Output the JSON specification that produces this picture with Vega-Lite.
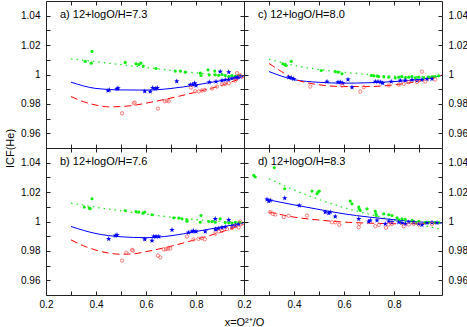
{
"$schema":"https://vega.github.io/schema/vega-lite/v6.json",
"padding":{"left":3,"top":0,"right":0,"bottom":0},
"background":"white",
"datasets":{
"fit":[
{"p":"a","s":"g","x":0.3,"y":1.0107},{"p":"a","s":"g","x":0.4,"y":1.0087},{"p":"a","s":"g","x":0.5,"y":1.0067},{"p":"a","s":"g","x":0.6,"y":1.0048},{"p":"a","s":"g","x":0.7,"y":1.0028},{"p":"a","s":"g","x":0.8,"y":1.0011},{"p":"a","s":"g","x":0.9,"y":0.9996},{"p":"a","s":"g","x":0.99,"y":0.9987},
{"p":"a","s":"b","x":0.3,"y":0.9948},{"p":"a","s":"b","x":0.4,"y":0.9905},{"p":"a","s":"b","x":0.5,"y":0.9895},{"p":"a","s":"b","x":0.6,"y":0.9894},{"p":"a","s":"b","x":0.7,"y":0.9905},{"p":"a","s":"b","x":0.8,"y":0.9929},{"p":"a","s":"b","x":0.9,"y":0.9958},{"p":"a","s":"b","x":0.99,"y":0.9988},
{"p":"a","s":"r","x":0.3,"y":0.985},{"p":"a","s":"r","x":0.35,"y":0.9815},{"p":"a","s":"r","x":0.4,"y":0.9792},{"p":"a","s":"r","x":0.45,"y":0.978},{"p":"a","s":"r","x":0.5,"y":0.9782},{"p":"a","s":"r","x":0.55,"y":0.979},{"p":"a","s":"r","x":0.6,"y":0.9805},{"p":"a","s":"r","x":0.7,"y":0.984},{"p":"a","s":"r","x":0.8,"y":0.988},{"p":"a","s":"r","x":0.9,"y":0.9925},{"p":"a","s":"r","x":0.99,"y":0.998},
{"p":"b","s":"g","x":0.3,"y":1.0125},{"p":"b","s":"g","x":0.4,"y":1.0097},{"p":"b","s":"g","x":0.5,"y":1.0072},{"p":"b","s":"g","x":0.6,"y":1.005},{"p":"b","s":"g","x":0.7,"y":1.003},{"p":"b","s":"g","x":0.8,"y":1.0013},{"p":"b","s":"g","x":0.9,"y":1.0},{"p":"b","s":"g","x":0.99,"y":0.9993},
{"p":"b","s":"b","x":0.3,"y":0.9966},{"p":"b","s":"b","x":0.4,"y":0.9918},{"p":"b","s":"b","x":0.5,"y":0.9896},{"p":"b","s":"b","x":0.6,"y":0.989},{"p":"b","s":"b","x":0.7,"y":0.9903},{"p":"b","s":"b","x":0.8,"y":0.9932},{"p":"b","s":"b","x":0.9,"y":0.9962},{"p":"b","s":"b","x":0.99,"y":0.999},
{"p":"b","s":"r","x":0.3,"y":0.9875},{"p":"b","s":"r","x":0.35,"y":0.9835},{"p":"b","s":"r","x":0.4,"y":0.9805},{"p":"b","s":"r","x":0.45,"y":0.9785},{"p":"b","s":"r","x":0.5,"y":0.9777},{"p":"b","s":"r","x":0.55,"y":0.978},{"p":"b","s":"r","x":0.6,"y":0.9795},{"p":"b","s":"r","x":0.7,"y":0.9832},{"p":"b","s":"r","x":0.8,"y":0.9878},{"p":"b","s":"r","x":0.9,"y":0.9928},{"p":"b","s":"r","x":0.99,"y":0.998},
{"p":"c","s":"g","x":0.3,"y":1.0105},{"p":"c","s":"g","x":0.4,"y":1.0062},{"p":"c","s":"g","x":0.5,"y":1.0034},{"p":"c","s":"g","x":0.6,"y":1.0015},{"p":"c","s":"g","x":0.7,"y":1.0},{"p":"c","s":"g","x":0.8,"y":0.9988},{"p":"c","s":"g","x":0.9,"y":0.9985},{"p":"c","s":"g","x":0.99,"y":0.9995},
{"p":"c","s":"b","x":0.3,"y":1.002},{"p":"c","s":"b","x":0.4,"y":0.9965},{"p":"c","s":"b","x":0.5,"y":0.9947},{"p":"c","s":"b","x":0.6,"y":0.9941},{"p":"c","s":"b","x":0.7,"y":0.9944},{"p":"c","s":"b","x":0.8,"y":0.9952},{"p":"c","s":"b","x":0.9,"y":0.9966},{"p":"c","s":"b","x":0.99,"y":0.9993},
{"p":"c","s":"r","x":0.3,"y":1.0075},{"p":"c","s":"r","x":0.35,"y":1.002},{"p":"c","s":"r","x":0.4,"y":0.997},{"p":"c","s":"r","x":0.45,"y":0.9945},{"p":"c","s":"r","x":0.5,"y":0.993},{"p":"c","s":"r","x":0.6,"y":0.9918},{"p":"c","s":"r","x":0.7,"y":0.9918},{"p":"c","s":"r","x":0.8,"y":0.993},{"p":"c","s":"r","x":0.9,"y":0.9955},{"p":"c","s":"r","x":0.99,"y":0.9995},
{"p":"d","s":"g","x":0.3,"y":1.029},{"p":"d","s":"g","x":0.4,"y":1.0215},{"p":"d","s":"g","x":0.5,"y":1.015},{"p":"d","s":"g","x":0.6,"y":1.0095},{"p":"d","s":"g","x":0.7,"y":1.005},{"p":"d","s":"g","x":0.8,"y":1.001},{"p":"d","s":"g","x":0.9,"y":0.998},{"p":"d","s":"g","x":0.99,"y":0.9945},
{"p":"d","s":"b","x":0.29,"y":1.015},{"p":"d","s":"b","x":0.4,"y":1.0113},{"p":"d","s":"b","x":0.5,"y":1.0082},{"p":"d","s":"b","x":0.6,"y":1.0052},{"p":"d","s":"b","x":0.7,"y":1.003},{"p":"d","s":"b","x":0.8,"y":1.0012},{"p":"d","s":"b","x":0.9,"y":0.9997},{"p":"d","s":"b","x":0.99,"y":0.9988},
{"p":"d","s":"r","x":0.3,"y":1.0065},{"p":"d","s":"r","x":0.4,"y":1.003},{"p":"d","s":"r","x":0.5,"y":1.001},{"p":"d","s":"r","x":0.6,"y":0.9996},{"p":"d","s":"r","x":0.7,"y":0.9989},{"p":"d","s":"r","x":0.8,"y":0.9985},{"p":"d","s":"r","x":0.9,"y":0.9985},{"p":"d","s":"r","x":0.99,"y":0.999}
],
"pts":[
{"p":"a","s":"g","x":0.384,"y":1.0157},{"p":"a","s":"g","x":0.357,"y":1.0089},{"p":"a","s":"g","x":0.381,"y":1.0077},{"p":"a","s":"g","x":0.517,"y":1.0082},{"p":"a","s":"g","x":0.56,"y":1.0073},{"p":"a","s":"g","x":0.571,"y":1.0068},{"p":"a","s":"g","x":0.579,"y":1.0077},{"p":"a","s":"g","x":0.589,"y":1.0057},{"p":"a","s":"g","x":0.64,"y":1.0041},{"p":"a","s":"g","x":0.717,"y":1.0023},{"p":"a","s":"g","x":0.737,"y":1.0023},{"p":"a","s":"g","x":0.757,"y":1.0016},{"p":"a","s":"g","x":0.817,"y":1.0009},{"p":"a","s":"g","x":0.82,"y":0.9993},{"p":"a","s":"g","x":0.848,"y":1.0032},{"p":"a","s":"g","x":0.853,"y":0.9998},{"p":"a","s":"g","x":0.875,"y":1.0023},{"p":"a","s":"g","x":0.877,"y":0.9998},{"p":"a","s":"g","x":0.891,"y":0.9995},{"p":"a","s":"g","x":0.904,"y":1.0},{"p":"a","s":"g","x":0.917,"y":0.9993},{"p":"a","s":"g","x":0.931,"y":0.9986},{"p":"a","s":"g","x":0.944,"y":0.9993},{"p":"a","s":"g","x":0.957,"y":0.9988},{"p":"a","s":"g","x":0.971,"y":0.9993},{"p":"a","s":"g","x":0.977,"y":0.9988},
{"p":"a","s":"b","x":0.448,"y":0.9891},{"p":"a","s":"b","x":0.453,"y":0.9895},{"p":"a","s":"b","x":0.484,"y":0.9902},{"p":"a","s":"b","x":0.488,"y":0.9907},{"p":"a","s":"b","x":0.595,"y":0.9886},{"p":"a","s":"b","x":0.617,"y":0.9884},{"p":"a","s":"b","x":0.627,"y":0.9909},{"p":"a","s":"b","x":0.637,"y":0.9904},{"p":"a","s":"b","x":0.645,"y":0.9909},{"p":"a","s":"b","x":0.723,"y":0.9954},{"p":"a","s":"b","x":0.777,"y":0.993},{"p":"a","s":"b","x":0.787,"y":0.9932},{"p":"a","s":"b","x":0.795,"y":0.9941},{"p":"a","s":"b","x":0.8,"y":0.9925},{"p":"a","s":"b","x":0.853,"y":0.9948},{"p":"a","s":"b","x":0.88,"y":0.9952},{"p":"a","s":"b","x":0.897,"y":1.002},{"p":"a","s":"b","x":0.931,"y":1.0016},{"p":"a","s":"b","x":0.904,"y":0.9959},{"p":"a","s":"b","x":0.917,"y":0.9964},{"p":"a","s":"b","x":0.93,"y":0.9965},{"p":"a","s":"b","x":0.944,"y":0.9973},{"p":"a","s":"b","x":0.957,"y":0.9977},{"p":"a","s":"b","x":0.965,"y":0.998},{"p":"a","s":"b","x":0.971,"y":0.9982},{"p":"a","s":"b","x":0.977,"y":0.9986},
{"p":"a","s":"r","x":0.504,"y":0.9736},{"p":"a","s":"r","x":0.551,"y":0.9804},{"p":"a","s":"r","x":0.555,"y":0.9809},{"p":"a","s":"r","x":0.648,"y":0.9768},{"p":"a","s":"r","x":0.675,"y":0.9818},{"p":"a","s":"r","x":0.683,"y":0.9822},{"p":"a","s":"r","x":0.691,"y":0.9818},{"p":"a","s":"r","x":0.78,"y":0.9911},{"p":"a","s":"r","x":0.797,"y":0.9886},{"p":"a","s":"r","x":0.811,"y":0.9884},{"p":"a","s":"r","x":0.824,"y":0.9891},{"p":"a","s":"r","x":0.835,"y":0.9895},{"p":"a","s":"r","x":0.864,"y":0.9904},{"p":"a","s":"r","x":0.884,"y":0.9918},{"p":"a","s":"r","x":0.904,"y":0.9932},{"p":"a","s":"r","x":0.917,"y":0.9936},{"p":"a","s":"r","x":0.931,"y":0.9941},{"p":"a","s":"r","x":0.957,"y":0.9959},{"p":"a","s":"r","x":0.964,"y":1.0009},{"p":"a","s":"r","x":0.977,"y":0.9995},
{"p":"b","s":"g","x":0.384,"y":1.0155},{"p":"b","s":"g","x":0.353,"y":1.0098},{"p":"b","s":"g","x":0.373,"y":1.0091},{"p":"b","s":"g","x":0.377,"y":1.0087},{"p":"b","s":"g","x":0.517,"y":1.0075},{"p":"b","s":"g","x":0.56,"y":1.0068},{"p":"b","s":"g","x":0.571,"y":1.0064},{"p":"b","s":"g","x":0.588,"y":1.0057},{"p":"b","s":"g","x":0.595,"y":1.0064},{"p":"b","s":"g","x":0.624,"y":1.0046},{"p":"b","s":"g","x":0.711,"y":1.0025},{"p":"b","s":"g","x":0.731,"y":1.0023},{"p":"b","s":"g","x":0.744,"y":1.0018},{"p":"b","s":"g","x":0.764,"y":1.0011},{"p":"b","s":"g","x":0.764,"y":1.0002},{"p":"b","s":"g","x":0.82,"y":1.0041},{"p":"b","s":"g","x":0.817,"y":0.9995},{"p":"b","s":"g","x":0.851,"y":1.0},{"p":"b","s":"g","x":0.864,"y":1.0},{"p":"b","s":"g","x":0.877,"y":0.9995},{"p":"b","s":"g","x":0.897,"y":1.0018},{"p":"b","s":"g","x":0.917,"y":0.9993},{"p":"b","s":"g","x":0.931,"y":0.9991},{"p":"b","s":"g","x":0.944,"y":0.9989},{"p":"b","s":"g","x":0.957,"y":0.9995},{"p":"b","s":"g","x":0.971,"y":0.9993},{"p":"b","s":"g","x":0.977,"y":0.9993},
{"p":"b","s":"b","x":0.451,"y":0.9882},{"p":"b","s":"b","x":0.477,"y":0.9904},{"p":"b","s":"b","x":0.484,"y":0.9909},{"p":"b","s":"b","x":0.595,"y":0.9879},{"p":"b","s":"b","x":0.624,"y":0.987},{"p":"b","s":"b","x":0.631,"y":0.9898},{"p":"b","s":"b","x":0.64,"y":0.9898},{"p":"b","s":"b","x":0.651,"y":0.9898},{"p":"b","s":"b","x":0.704,"y":0.9943},{"p":"b","s":"b","x":0.77,"y":0.9925},{"p":"b","s":"b","x":0.784,"y":0.9932},{"p":"b","s":"b","x":0.79,"y":0.9936},{"p":"b","s":"b","x":0.8,"y":0.9932},{"p":"b","s":"b","x":0.837,"y":0.9932},{"p":"b","s":"b","x":0.877,"y":1.0018},{"p":"b","s":"b","x":0.877,"y":0.9948},{"p":"b","s":"b","x":0.88,"y":0.9945},{"p":"b","s":"b","x":0.89,"y":0.9952},{"p":"b","s":"b","x":0.904,"y":0.9959},{"p":"b","s":"b","x":0.917,"y":0.9964},{"p":"b","s":"b","x":0.931,"y":1.0011},{"p":"b","s":"b","x":0.944,"y":0.9968},{"p":"b","s":"b","x":0.957,"y":0.9975},{"p":"b","s":"b","x":0.971,"y":0.998},
{"p":"b","s":"r","x":0.504,"y":0.9734},{"p":"b","s":"r","x":0.521,"y":0.9788},{"p":"b","s":"r","x":0.544,"y":0.9807},{"p":"b","s":"r","x":0.548,"y":0.9802},{"p":"b","s":"r","x":0.648,"y":0.9768},{"p":"b","s":"r","x":0.657,"y":0.9756},{"p":"b","s":"r","x":0.671,"y":0.981},{"p":"b","s":"r","x":0.68,"y":0.9812},{"p":"b","s":"r","x":0.688,"y":0.9814},{"p":"b","s":"r","x":0.697,"y":0.9816},{"p":"b","s":"r","x":0.764,"y":0.9898},{"p":"b","s":"r","x":0.79,"y":0.9877},{"p":"b","s":"r","x":0.81,"y":0.9882},{"p":"b","s":"r","x":0.824,"y":0.9886},{"p":"b","s":"r","x":0.835,"y":0.9879},{"p":"b","s":"r","x":0.877,"y":0.9918},{"p":"b","s":"r","x":0.891,"y":0.9932},{"p":"b","s":"r","x":0.904,"y":0.9936},{"p":"b","s":"r","x":0.924,"y":0.9948},{"p":"b","s":"r","x":0.944,"y":0.9955},{"p":"b","s":"r","x":0.957,"y":0.9968},{"p":"b","s":"r","x":0.971,"y":0.996},{"p":"b","s":"r","x":0.977,"y":1.0},
{"p":"c","s":"g","x":0.355,"y":1.0073},{"p":"c","s":"g","x":0.363,"y":1.0066},{"p":"c","s":"g","x":0.369,"y":1.0061},{"p":"c","s":"g","x":0.389,"y":1.0089},{"p":"c","s":"g","x":0.509,"y":1.0027},{"p":"c","s":"g","x":0.565,"y":1.002},{"p":"c","s":"g","x":0.576,"y":1.0016},{"p":"c","s":"g","x":0.592,"y":1.0005},{"p":"c","s":"g","x":0.709,"y":0.9993},{"p":"c","s":"g","x":0.719,"y":0.9991},{"p":"c","s":"g","x":0.732,"y":0.9989},{"p":"c","s":"g","x":0.739,"y":0.9986},{"p":"c","s":"g","x":0.759,"y":0.9984},{"p":"c","s":"g","x":0.779,"y":0.9982},{"p":"c","s":"g","x":0.805,"y":0.9977},{"p":"c","s":"g","x":0.819,"y":0.9982},{"p":"c","s":"g","x":0.832,"y":0.9986},{"p":"c","s":"g","x":0.845,"y":0.9977},{"p":"c","s":"g","x":0.859,"y":0.9982},{"p":"c","s":"g","x":0.872,"y":0.9986},{"p":"c","s":"g","x":0.885,"y":0.9977},{"p":"c","s":"g","x":0.899,"y":0.9982},{"p":"c","s":"g","x":0.919,"y":0.9977},{"p":"c","s":"g","x":0.939,"y":0.9982},{"p":"c","s":"g","x":0.952,"y":0.9984},{"p":"c","s":"g","x":0.965,"y":0.9986},{"p":"c","s":"g","x":0.979,"y":0.9991},
{"p":"c","s":"b","x":0.379,"y":0.9982},{"p":"c","s":"b","x":0.389,"y":0.9977},{"p":"c","s":"b","x":0.399,"y":0.997},{"p":"c","s":"b","x":0.532,"y":0.9952},{"p":"c","s":"b","x":0.576,"y":0.9948},{"p":"c","s":"b","x":0.585,"y":0.9948},{"p":"c","s":"b","x":0.595,"y":0.9941},{"p":"c","s":"b","x":0.616,"y":0.9966},{"p":"c","s":"b","x":0.632,"y":0.9913},{"p":"c","s":"b","x":0.725,"y":0.9952},{"p":"c","s":"b","x":0.736,"y":0.9952},{"p":"c","s":"b","x":0.747,"y":0.9948},{"p":"c","s":"b","x":0.755,"y":0.9941},{"p":"c","s":"b","x":0.789,"y":0.9952},{"p":"c","s":"b","x":0.825,"y":0.9959},{"p":"c","s":"b","x":0.845,"y":0.9959},{"p":"c","s":"b","x":0.872,"y":0.9964},{"p":"c","s":"b","x":0.892,"y":0.9959},{"p":"c","s":"b","x":0.912,"y":0.9964},{"p":"c","s":"b","x":0.932,"y":0.9968},{"p":"c","s":"b","x":0.952,"y":0.997},
{"p":"c","s":"r","x":0.465,"y":0.9918},{"p":"c","s":"r","x":0.592,"y":0.9925},{"p":"c","s":"r","x":0.665,"y":0.9884},{"p":"c","s":"r","x":0.679,"y":0.9913},{"p":"c","s":"r","x":0.779,"y":0.9925},{"p":"c","s":"r","x":0.819,"y":0.9932},{"p":"c","s":"r","x":0.839,"y":0.9936},{"p":"c","s":"r","x":0.859,"y":0.9948},{"p":"c","s":"r","x":0.892,"y":0.9948},{"p":"c","s":"r","x":0.912,"y":1.002},{"p":"c","s":"r","x":0.925,"y":0.9952},{"p":"c","s":"r","x":0.965,"y":0.9966},
{"p":"d","s":"g","x":0.239,"y":1.0314},{"p":"d","s":"g","x":0.245,"y":1.0303},{"p":"d","s":"g","x":0.321,"y":1.0367},{"p":"d","s":"g","x":0.363,"y":1.0223},{"p":"d","s":"g","x":0.472,"y":1.0207},{"p":"d","s":"g","x":0.492,"y":1.0189},{"p":"d","s":"g","x":0.496,"y":1.02},{"p":"d","s":"g","x":0.501,"y":1.0207},{"p":"d","s":"g","x":0.625,"y":1.0139},{"p":"d","s":"g","x":0.632,"y":1.0121},{"p":"d","s":"g","x":0.659,"y":1.0098},{"p":"d","s":"g","x":0.661,"y":1.0087},{"p":"d","s":"g","x":0.665,"y":1.0075},{"p":"d","s":"g","x":0.692,"y":1.0087},{"p":"d","s":"g","x":0.725,"y":1.007},{"p":"d","s":"g","x":0.728,"y":1.0052},{"p":"d","s":"g","x":0.729,"y":1.0041},{"p":"d","s":"g","x":0.759,"y":1.0052},{"p":"d","s":"g","x":0.779,"y":1.0046},{"p":"d","s":"g","x":0.792,"y":1.0041},{"p":"d","s":"g","x":0.812,"y":1.0025},{"p":"d","s":"g","x":0.819,"y":1.0011},{"p":"d","s":"g","x":0.832,"y":1.0018},{"p":"d","s":"g","x":0.845,"y":1.0014},{"p":"d","s":"g","x":0.872,"y":1.0007},{"p":"d","s":"g","x":0.879,"y":1.0},{"p":"d","s":"g","x":0.885,"y":0.9995},{"p":"d","s":"g","x":0.899,"y":1.0002},{"p":"d","s":"g","x":0.925,"y":0.9995},{"p":"d","s":"g","x":0.939,"y":0.9995},{"p":"d","s":"g","x":0.952,"y":0.9993},{"p":"d","s":"g","x":0.965,"y":0.9995},{"p":"d","s":"g","x":0.979,"y":0.9993},
{"p":"d","s":"b","x":0.292,"y":1.015},{"p":"d","s":"b","x":0.299,"y":1.0139},{"p":"d","s":"b","x":0.305,"y":1.0143},{"p":"d","s":"b","x":0.363,"y":1.0159},{"p":"d","s":"b","x":0.421,"y":1.0109},{"p":"d","s":"b","x":0.525,"y":1.0064},{"p":"d","s":"b","x":0.539,"y":1.0057},{"p":"d","s":"b","x":0.545,"y":1.0064},{"p":"d","s":"b","x":0.565,"y":1.0034},{"p":"d","s":"b","x":0.659,"y":1.0018},{"p":"d","s":"b","x":0.699,"y":1.0},{"p":"d","s":"b","x":0.705,"y":1.0007},{"p":"d","s":"b","x":0.732,"y":1.0007},{"p":"d","s":"b","x":0.765,"y":0.9984},{"p":"d","s":"b","x":0.779,"y":1.0},{"p":"d","s":"b","x":0.792,"y":0.9995},{"p":"d","s":"b","x":0.819,"y":0.9995},{"p":"d","s":"b","x":0.832,"y":0.9991},{"p":"d","s":"b","x":0.845,"y":0.9984},{"p":"d","s":"b","x":0.859,"y":0.9995},{"p":"d","s":"b","x":0.879,"y":0.9995},{"p":"d","s":"b","x":0.899,"y":0.9984},{"p":"d","s":"b","x":0.912,"y":0.9977},{"p":"d","s":"b","x":0.932,"y":0.9991},{"p":"d","s":"b","x":0.952,"y":0.9993},{"p":"d","s":"b","x":0.972,"y":0.9991},
{"p":"d","s":"r","x":0.305,"y":1.0064},{"p":"d","s":"r","x":0.315,"y":1.0052},{"p":"d","s":"r","x":0.325,"y":1.0048},{"p":"d","s":"r","x":0.359,"y":1.003},{"p":"d","s":"r","x":0.379,"y":1.0039},{"p":"d","s":"r","x":0.452,"y":1.0041},{"p":"d","s":"r","x":0.552,"y":0.9995},{"p":"d","s":"r","x":0.565,"y":0.9995},{"p":"d","s":"r","x":0.581,"y":0.9977},{"p":"d","s":"r","x":0.659,"y":0.9961},{"p":"d","s":"r","x":0.661,"y":0.9984},{"p":"d","s":"r","x":0.725,"y":0.9968},{"p":"d","s":"r","x":0.739,"y":0.9977},{"p":"d","s":"r","x":0.768,"y":0.9957},{"p":"d","s":"r","x":0.779,"y":0.998},{"p":"d","s":"r","x":0.792,"y":0.9984},{"p":"d","s":"r","x":0.839,"y":0.9968},{"p":"d","s":"r","x":0.859,"y":0.998},{"p":"d","s":"r","x":0.879,"y":0.9984},{"p":"d","s":"r","x":0.899,"y":0.998},{"p":"d","s":"r","x":0.952,"y":0.9984}
]
},
"concat":[
{"width":198,"height":147,
 "layer":[
  {"data":{"name":"fit"},"transform":[{"filter":"datum.p=='a' && datum.s=='g'"}],
   "mark":{"type":"line","color":"#22ee22","strokeDash":[1.5,4],"strokeWidth":1.3,"interpolate":"monotone"},
   "encoding":{"x":{"field":"x","type":"quantitative","scale":{"domain":[0.2,0.992],"nice":false,"zero":false},"axis":{"orient":"top","values":[0.3,0.4,0.5,0.6,0.7,0.8,0.9],"labels":false,"tickSize":-4,"domain":false,"grid":false,"title":null}},
    "y":{"field":"y","type":"quantitative","scale":{"domain":[0.95,1.05],"nice":false,"zero":false},"axis":{"orient":"right","values":[0.96,0.97,0.98,0.99,1,1.01,1.02,1.03,1.04],"labels":false,"tickSize":-4,"domain":false,"grid":false,"title":null}}}},
  {"data":{"name":"fit"},"transform":[{"filter":"datum.p=='a' && datum.s=='b'"}],
   "mark":{"type":"line","color":"#0000ff","strokeWidth":1,"interpolate":"monotone"},
   "encoding":{"x":{"field":"x","type":"quantitative","scale":{"domain":[0.2,0.992],"nice":false,"zero":false},"axis":{"orient":"bottom","values":[0.3,0.4,0.5,0.6,0.7,0.8,0.9],"labels":false,"tickSize":-4,"domain":false,"grid":false,"title":null}},
    "y":{"field":"y","type":"quantitative","scale":{"domain":[0.95,1.05],"nice":false,"zero":false},"axis":{"orient":"left","values":[0.96,0.97,0.98,0.99,1,1.01,1.02,1.03,1.04],"format":"~g","labelExpr":"round(datum.value*100)%2==0 ? datum.label : ''","tickSize":-4,"labelPadding":10,"domain":false,"grid":false,"title":"ICF(He)","titleX":-31,"titleY":147,"titleAngle":-90,"titleBaseline":"bottom","titleAlign":"center"}}}},
  {"data":{"name":"fit"},"transform":[{"filter":"datum.p=='a' && datum.s=='r'"}],
   "mark":{"type":"line","color":"#ff0000","strokeDash":[7,4],"strokeWidth":1,"interpolate":"monotone"},
   "encoding":{"x":{"field":"x","type":"quantitative","scale":{"domain":[0.2,0.992],"nice":false,"zero":false},"axis":null},"y":{"field":"y","type":"quantitative","scale":{"domain":[0.95,1.05],"nice":false,"zero":false},"axis":null}}},
  {"data":{"name":"pts"},"transform":[{"filter":"datum.p=='a' && datum.s=='g'"}],
   "mark":{"type":"point","shape":"circle","filled":true,"color":"#11ee11","size":10,"opacity":1},
   "encoding":{"x":{"field":"x","type":"quantitative","scale":{"domain":[0.2,0.992],"nice":false,"zero":false},"axis":null},"y":{"field":"y","type":"quantitative","scale":{"domain":[0.95,1.05],"nice":false,"zero":false},"axis":null}}},
  {"data":{"name":"pts"},"transform":[{"filter":"datum.p=='a' && datum.s=='b'"}],
   "mark":{"type":"point","shape":"M0,-1L0.235,-0.324L0.951,-0.309L0.38,0.124L0.588,0.809L0,0.4L-0.588,0.809L-0.38,0.124L-0.951,-0.309L-0.235,-0.324Z","filled":true,"color":"#0000ff","size":32,"opacity":1},
   "encoding":{"x":{"field":"x","type":"quantitative","scale":{"domain":[0.2,0.992],"nice":false,"zero":false},"axis":null},"y":{"field":"y","type":"quantitative","scale":{"domain":[0.95,1.05],"nice":false,"zero":false},"axis":null}}},
  {"data":{"name":"pts"},"transform":[{"filter":"datum.p=='a' && datum.s=='r'"}],
   "mark":{"type":"point","shape":"circle","filled":false,"color":"#ff5a5a","size":11,"strokeWidth":0.8,"opacity":1},
   "encoding":{"x":{"field":"x","type":"quantitative","scale":{"domain":[0.2,0.992],"nice":false,"zero":false},"axis":null},"y":{"field":"y","type":"quantitative","scale":{"domain":[0.95,1.05],"nice":false,"zero":false},"axis":null}}},
  {"data":{"values":[{"label":"a) 12+logO/H=7.3"}]},
   "mark":{"type":"text","align":"left","baseline":"middle","font":"Liberation Sans","fontSize":11,"color":"#000"},
   "encoding":{"x":{"datum":0.256,"type":"quantitative","scale":{"domain":[0.2,0.992],"nice":false,"zero":false},"axis":null},"y":{"datum":1.0405,"type":"quantitative","scale":{"domain":[0.95,1.05],"nice":false,"zero":false},"axis":null},"text":{"field":"label"}}}
 ],
 "resolve":{"axis":{"x":"independent","y":"independent"}}
},
{"width":198,"height":147,
 "layer":[
  {"data":{"name":"fit"},"transform":[{"filter":"datum.p=='c' && datum.s=='g'"}],
   "mark":{"type":"line","color":"#22ee22","strokeDash":[1.5,4],"strokeWidth":1.3,"interpolate":"monotone"},
   "encoding":{"x":{"field":"x","type":"quantitative","scale":{"domain":[0.2,0.992],"nice":false,"zero":false},"axis":{"orient":"top","values":[0.3,0.4,0.5,0.6,0.7,0.8,0.9],"labels":false,"tickSize":-4,"domain":false,"grid":false,"title":null}},
    "y":{"field":"y","type":"quantitative","scale":{"domain":[0.95,1.05],"nice":false,"zero":false},"axis":{"orient":"right","values":[0.96,0.97,0.98,0.99,1,1.01,1.02,1.03,1.04],"format":"~g","labelExpr":"round(datum.value*100)%2==0 ? datum.label : ''","tickSize":-4,"labelPadding":10,"domain":false,"grid":false,"title":null}}}},
  {"data":{"name":"fit"},"transform":[{"filter":"datum.p=='c' && datum.s=='b'"}],
   "mark":{"type":"line","color":"#0000ff","strokeWidth":1,"interpolate":"monotone"},
   "encoding":{"x":{"field":"x","type":"quantitative","scale":{"domain":[0.2,0.992],"nice":false,"zero":false},"axis":{"orient":"bottom","values":[0.3,0.4,0.5,0.6,0.7,0.8,0.9],"labels":false,"tickSize":-4,"domain":false,"grid":false,"title":null}},
    "y":{"field":"y","type":"quantitative","scale":{"domain":[0.95,1.05],"nice":false,"zero":false},"axis":{"orient":"left","values":[0.96,0.97,0.98,0.99,1,1.01,1.02,1.03,1.04],"labels":false,"tickSize":-4,"domain":false,"grid":false,"title":null}}}},
  {"data":{"name":"fit"},"transform":[{"filter":"datum.p=='c' && datum.s=='r'"}],
   "mark":{"type":"line","color":"#ff0000","strokeDash":[7,4],"strokeWidth":1,"interpolate":"monotone"},
   "encoding":{"x":{"field":"x","type":"quantitative","scale":{"domain":[0.2,0.992],"nice":false,"zero":false},"axis":null},"y":{"field":"y","type":"quantitative","scale":{"domain":[0.95,1.05],"nice":false,"zero":false},"axis":null}}},
  {"data":{"name":"pts"},"transform":[{"filter":"datum.p=='c' && datum.s=='g'"}],
   "mark":{"type":"point","shape":"circle","filled":true,"color":"#11ee11","size":10,"opacity":1},
   "encoding":{"x":{"field":"x","type":"quantitative","scale":{"domain":[0.2,0.992],"nice":false,"zero":false},"axis":null},"y":{"field":"y","type":"quantitative","scale":{"domain":[0.95,1.05],"nice":false,"zero":false},"axis":null}}},
  {"data":{"name":"pts"},"transform":[{"filter":"datum.p=='c' && datum.s=='b'"}],
   "mark":{"type":"point","shape":"M0,-1L0.235,-0.324L0.951,-0.309L0.38,0.124L0.588,0.809L0,0.4L-0.588,0.809L-0.38,0.124L-0.951,-0.309L-0.235,-0.324Z","filled":true,"color":"#0000ff","size":32,"opacity":1},
   "encoding":{"x":{"field":"x","type":"quantitative","scale":{"domain":[0.2,0.992],"nice":false,"zero":false},"axis":null},"y":{"field":"y","type":"quantitative","scale":{"domain":[0.95,1.05],"nice":false,"zero":false},"axis":null}}},
  {"data":{"name":"pts"},"transform":[{"filter":"datum.p=='c' && datum.s=='r'"}],
   "mark":{"type":"point","shape":"circle","filled":false,"color":"#ff5a5a","size":11,"strokeWidth":0.8,"opacity":1},
   "encoding":{"x":{"field":"x","type":"quantitative","scale":{"domain":[0.2,0.992],"nice":false,"zero":false},"axis":null},"y":{"field":"y","type":"quantitative","scale":{"domain":[0.95,1.05],"nice":false,"zero":false},"axis":null}}},
  {"data":{"values":[{"label":"c) 12+logO/H=8.0"}]},
   "mark":{"type":"text","align":"left","baseline":"middle","font":"Liberation Sans","fontSize":11,"color":"#000"},
   "encoding":{"x":{"datum":0.256,"type":"quantitative","scale":{"domain":[0.2,0.992],"nice":false,"zero":false},"axis":null},"y":{"datum":1.0405,"type":"quantitative","scale":{"domain":[0.95,1.05],"nice":false,"zero":false},"axis":null},"text":{"field":"label"}}}
 ],
 "resolve":{"axis":{"x":"independent","y":"independent"}}
},
{"width":198,"height":147,
 "layer":[
  {"data":{"name":"fit"},"transform":[{"filter":"datum.p=='b' && datum.s=='g'"}],
   "mark":{"type":"line","color":"#22ee22","strokeDash":[1.5,4],"strokeWidth":1.3,"interpolate":"monotone"},
   "encoding":{"x":{"field":"x","type":"quantitative","scale":{"domain":[0.2,0.992],"nice":false,"zero":false},"axis":{"orient":"top","values":[0.3,0.4,0.5,0.6,0.7,0.8,0.9],"labels":false,"tickSize":-4,"domain":false,"grid":false,"title":null}},
    "y":{"field":"y","type":"quantitative","scale":{"domain":[0.95,1.05],"nice":false,"zero":false},"axis":{"orient":"right","values":[0.96,0.97,0.98,0.99,1,1.01,1.02,1.03,1.04],"labels":false,"tickSize":-4,"domain":false,"grid":false,"title":null}}}},
  {"data":{"name":"fit"},"transform":[{"filter":"datum.p=='b' && datum.s=='b'"}],
   "mark":{"type":"line","color":"#0000ff","strokeWidth":1,"interpolate":"monotone"},
   "encoding":{"x":{"field":"x","type":"quantitative","scale":{"domain":[0.2,0.992],"nice":false,"zero":false},"axis":{"orient":"bottom","values":[0.2,0.3,0.4,0.5,0.6,0.7,0.8,0.9],"format":"~g","labelExpr":"round(datum.value*10)%2==0 ? datum.label : ''","tickSize":-4,"labelPadding":8,"domain":false,"grid":false,"title":"x=O²⁺/O","titleX":198,"titleY":30,"titleAlign":"center","titleBaseline":"alphabetic"}},
    "y":{"field":"y","type":"quantitative","scale":{"domain":[0.95,1.05],"nice":false,"zero":false},"axis":{"orient":"left","values":[0.96,0.97,0.98,0.99,1,1.01,1.02,1.03,1.04],"format":"~g","labelExpr":"round(datum.value*100)%2==0 ? datum.label : ''","tickSize":-4,"labelPadding":10,"domain":false,"grid":false,"title":null}}}},
  {"data":{"name":"fit"},"transform":[{"filter":"datum.p=='b' && datum.s=='r'"}],
   "mark":{"type":"line","color":"#ff0000","strokeDash":[7,4],"strokeWidth":1,"interpolate":"monotone"},
   "encoding":{"x":{"field":"x","type":"quantitative","scale":{"domain":[0.2,0.992],"nice":false,"zero":false},"axis":null},"y":{"field":"y","type":"quantitative","scale":{"domain":[0.95,1.05],"nice":false,"zero":false},"axis":null}}},
  {"data":{"name":"pts"},"transform":[{"filter":"datum.p=='b' && datum.s=='g'"}],
   "mark":{"type":"point","shape":"circle","filled":true,"color":"#11ee11","size":10,"opacity":1},
   "encoding":{"x":{"field":"x","type":"quantitative","scale":{"domain":[0.2,0.992],"nice":false,"zero":false},"axis":null},"y":{"field":"y","type":"quantitative","scale":{"domain":[0.95,1.05],"nice":false,"zero":false},"axis":null}}},
  {"data":{"name":"pts"},"transform":[{"filter":"datum.p=='b' && datum.s=='b'"}],
   "mark":{"type":"point","shape":"M0,-1L0.235,-0.324L0.951,-0.309L0.38,0.124L0.588,0.809L0,0.4L-0.588,0.809L-0.38,0.124L-0.951,-0.309L-0.235,-0.324Z","filled":true,"color":"#0000ff","size":32,"opacity":1},
   "encoding":{"x":{"field":"x","type":"quantitative","scale":{"domain":[0.2,0.992],"nice":false,"zero":false},"axis":null},"y":{"field":"y","type":"quantitative","scale":{"domain":[0.95,1.05],"nice":false,"zero":false},"axis":null}}},
  {"data":{"name":"pts"},"transform":[{"filter":"datum.p=='b' && datum.s=='r'"}],
   "mark":{"type":"point","shape":"circle","filled":false,"color":"#ff5a5a","size":11,"strokeWidth":0.8,"opacity":1},
   "encoding":{"x":{"field":"x","type":"quantitative","scale":{"domain":[0.2,0.992],"nice":false,"zero":false},"axis":null},"y":{"field":"y","type":"quantitative","scale":{"domain":[0.95,1.05],"nice":false,"zero":false},"axis":null}}},
  {"data":{"values":[{"label":"b) 12+logO/H=7.6"}]},
   "mark":{"type":"text","align":"left","baseline":"middle","font":"Liberation Sans","fontSize":11,"color":"#000"},
   "encoding":{"x":{"datum":0.256,"type":"quantitative","scale":{"domain":[0.2,0.992],"nice":false,"zero":false},"axis":null},"y":{"datum":1.0405,"type":"quantitative","scale":{"domain":[0.95,1.05],"nice":false,"zero":false},"axis":null},"text":{"field":"label"}}}
 ],
 "resolve":{"axis":{"x":"independent","y":"independent"}}
},
{"width":198,"height":147,
 "layer":[
  {"data":{"name":"fit"},"transform":[{"filter":"datum.p=='d' && datum.s=='g'"}],
   "mark":{"type":"line","color":"#22ee22","strokeDash":[1.5,4],"strokeWidth":1.3,"interpolate":"monotone"},
   "encoding":{"x":{"field":"x","type":"quantitative","scale":{"domain":[0.2,0.992],"nice":false,"zero":false},"axis":{"orient":"top","values":[0.3,0.4,0.5,0.6,0.7,0.8,0.9],"labels":false,"tickSize":-4,"domain":false,"grid":false,"title":null}},
    "y":{"field":"y","type":"quantitative","scale":{"domain":[0.95,1.05],"nice":false,"zero":false},"axis":{"orient":"right","values":[0.96,0.97,0.98,0.99,1,1.01,1.02,1.03,1.04],"format":"~g","labelExpr":"round(datum.value*100)%2==0 ? datum.label : ''","tickSize":-4,"labelPadding":10,"domain":false,"grid":false,"title":null}}}},
  {"data":{"name":"fit"},"transform":[{"filter":"datum.p=='d' && datum.s=='b'"}],
   "mark":{"type":"line","color":"#0000ff","strokeWidth":1,"interpolate":"monotone"},
   "encoding":{"x":{"field":"x","type":"quantitative","scale":{"domain":[0.2,0.992],"nice":false,"zero":false},"axis":{"orient":"bottom","values":[0.2,0.3,0.4,0.5,0.6,0.7,0.8,0.9],"format":"~g","labelExpr":"round(datum.value*10)%2==0 ? datum.label : ''","tickSize":-4,"labelPadding":8,"domain":false,"grid":false,"title":null}},
    "y":{"field":"y","type":"quantitative","scale":{"domain":[0.95,1.05],"nice":false,"zero":false},"axis":{"orient":"left","values":[0.96,0.97,0.98,0.99,1,1.01,1.02,1.03,1.04],"labels":false,"tickSize":-4,"domain":false,"grid":false,"title":null}}}},
  {"data":{"name":"fit"},"transform":[{"filter":"datum.p=='d' && datum.s=='r'"}],
   "mark":{"type":"line","color":"#ff0000","strokeDash":[7,4],"strokeWidth":1,"interpolate":"monotone"},
   "encoding":{"x":{"field":"x","type":"quantitative","scale":{"domain":[0.2,0.992],"nice":false,"zero":false},"axis":null},"y":{"field":"y","type":"quantitative","scale":{"domain":[0.95,1.05],"nice":false,"zero":false},"axis":null}}},
  {"data":{"name":"pts"},"transform":[{"filter":"datum.p=='d' && datum.s=='g'"}],
   "mark":{"type":"point","shape":"circle","filled":true,"color":"#11ee11","size":10,"opacity":1},
   "encoding":{"x":{"field":"x","type":"quantitative","scale":{"domain":[0.2,0.992],"nice":false,"zero":false},"axis":null},"y":{"field":"y","type":"quantitative","scale":{"domain":[0.95,1.05],"nice":false,"zero":false},"axis":null}}},
  {"data":{"name":"pts"},"transform":[{"filter":"datum.p=='d' && datum.s=='b'"}],
   "mark":{"type":"point","shape":"M0,-1L0.235,-0.324L0.951,-0.309L0.38,0.124L0.588,0.809L0,0.4L-0.588,0.809L-0.38,0.124L-0.951,-0.309L-0.235,-0.324Z","filled":true,"color":"#0000ff","size":32,"opacity":1},
   "encoding":{"x":{"field":"x","type":"quantitative","scale":{"domain":[0.2,0.992],"nice":false,"zero":false},"axis":null},"y":{"field":"y","type":"quantitative","scale":{"domain":[0.95,1.05],"nice":false,"zero":false},"axis":null}}},
  {"data":{"name":"pts"},"transform":[{"filter":"datum.p=='d' && datum.s=='r'"}],
   "mark":{"type":"point","shape":"circle","filled":false,"color":"#ff5a5a","size":11,"strokeWidth":0.8,"opacity":1},
   "encoding":{"x":{"field":"x","type":"quantitative","scale":{"domain":[0.2,0.992],"nice":false,"zero":false},"axis":null},"y":{"field":"y","type":"quantitative","scale":{"domain":[0.95,1.05],"nice":false,"zero":false},"axis":null}}},
  {"data":{"values":[{"label":"d) 12+logO/H=8.3"}]},
   "mark":{"type":"text","align":"left","baseline":"middle","font":"Liberation Sans","fontSize":11,"color":"#000"},
   "encoding":{"x":{"datum":0.256,"type":"quantitative","scale":{"domain":[0.2,0.992],"nice":false,"zero":false},"axis":null},"y":{"datum":1.0405,"type":"quantitative","scale":{"domain":[0.95,1.05],"nice":false,"zero":false},"axis":null},"text":{"field":"label"}}}
 ],
 "resolve":{"axis":{"x":"independent","y":"independent"}}
}
],
"columns":2,
"spacing":0,
"bounds":"flush",
"config":{
 "view":{"stroke":"#222","strokeWidth":1},
 "axis":{"labelFont":"Liberation Sans","labelFontSize":10,"labelColor":"#000","tickColor":"#222","tickWidth":1,"labelFlush":false,"labelOverlap":false,"labelBound":false,"titleFont":"Liberation Sans","titleFontSize":11,"titleFontWeight":"normal","titleColor":"#000"}
}
}
